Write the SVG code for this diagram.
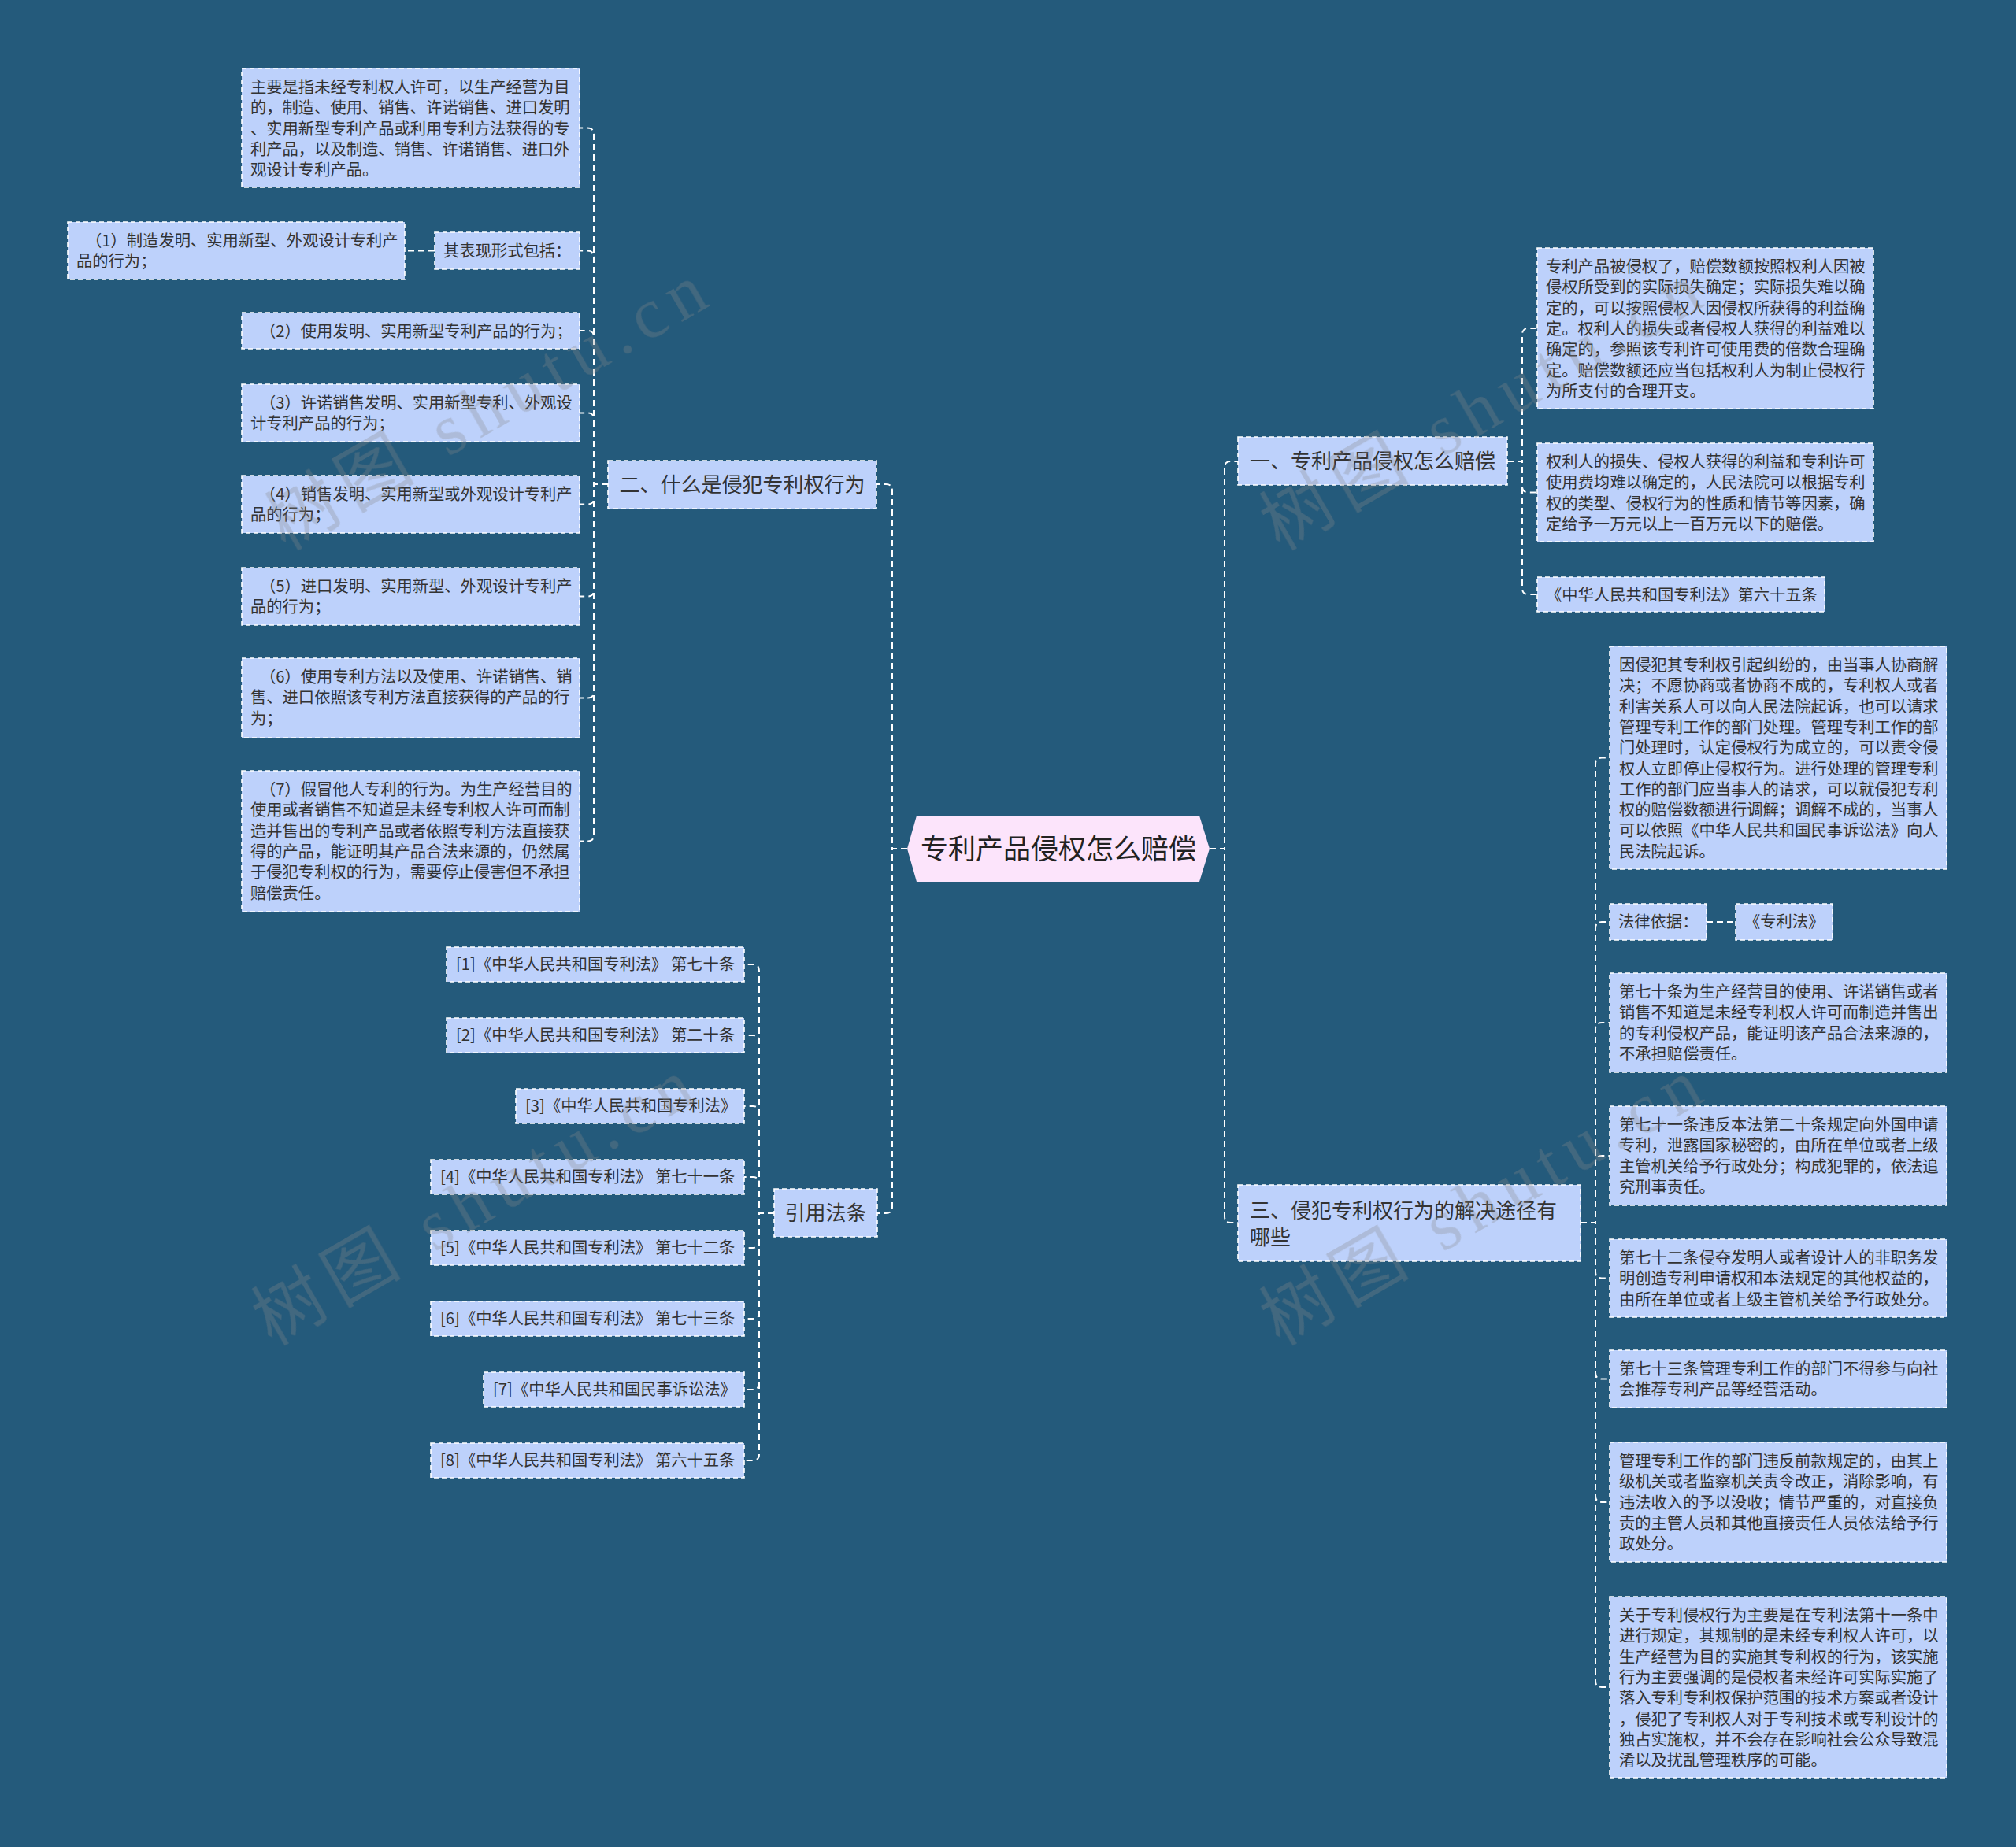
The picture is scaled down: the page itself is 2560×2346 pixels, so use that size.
<svg xmlns="http://www.w3.org/2000/svg" width="2560" height="2346" viewBox="0 0 2560 2346">
<style>
.n rect{fill:#bdd1fb;stroke:#ffffff;stroke-width:1.6;stroke-dasharray:6 4}
.t{font-family:"Noto Sans CJK SC","Noto Sans",sans-serif;font-size:20.3px;fill:#333333}
.b{font-family:"Noto Sans CJK SC","Noto Sans",sans-serif;font-size:26px;fill:#333333}
.c{font-family:"Noto Sans CJK SC","Noto Sans",sans-serif;font-size:35px;fill:#222222}
.conn path{fill:none;stroke:#ffffff;stroke-width:2;stroke-dasharray:8 5}
.wm{font-family:"Liberation Serif","Noto Sans CJK SC",serif;font-size:90px;fill:#8a8a8a;letter-spacing:12px}
</style>
<rect x="0" y="0" width="2560" height="2346" fill="#245a7b"/>

<g id="connectors" class="conn">
<path d="M1152 1078 H1133 V623 Q1133 615 1125 615 H1113"/>
<path d="M1152 1078 H1133 V1533 Q1133 1541 1125 1541 H1114"/>
<path d="M1536 1078 H1555 V594 Q1555 586 1563 586 H1572"/>
<path d="M1536 1078 H1555 V1545 Q1555 1553 1563 1553 H1572"/>
<path d="M1914 586 H1933 V425 Q1933 417 1941 417 H1952"/>
<path d="M1914 586 H1933 V617.5 Q1933 625.5 1941 625.5 H1952"/>
<path d="M1914 586 H1933 V747 Q1933 755 1941 755 H1952"/>
<path d="M2007 1553 H2026 V970.5 Q2026 962.5 2034 962.5 H2044"/>
<path d="M2007 1553 H2026 V1179 Q2026 1171 2034 1171 H2044"/>
<path d="M2007 1553 H2026 V1307 Q2026 1299 2034 1299 H2044"/>
<path d="M2007 1553 H2026 V1476 Q2026 1468 2034 1468 H2044"/>
<path d="M2007 1553 H2026 V1615.5 Q2026 1623.5 2034 1623.5 H2044"/>
<path d="M2007 1553 H2026 V1743.5 Q2026 1751.5 2034 1751.5 H2044"/>
<path d="M2007 1553 H2026 V1900 Q2026 1908 2034 1908 H2044"/>
<path d="M2007 1553 H2026 V2135 Q2026 2143 2034 2143 H2044"/>
<path d="M2167 1171 H2204"/>
<path d="M772 615 H754 V170.5 Q754 162.5 746 162.5 H736"/>
<path d="M772 615 H754 V326.5 Q754 318.5 746 318.5 H736"/>
<path d="M772 615 H754 V428 Q754 420 746 420 H736"/>
<path d="M772 615 H754 V532.5 Q754 524.5 746 524.5 H736"/>
<path d="M772 615 H754 V632.5 Q754 640.5 746 640.5 H736"/>
<path d="M772 615 H754 V749.5 Q754 757.5 746 757.5 H736"/>
<path d="M772 615 H754 V878.5 Q754 886.5 746 886.5 H736"/>
<path d="M772 615 H754 V1060.5 Q754 1068.5 746 1068.5 H736"/>
<path d="M552 318.5 H514"/>
<path d="M983 1541 H964 V1233 Q964 1225 956 1225 H945"/>
<path d="M983 1541 H964 V1323 Q964 1315 956 1315 H945"/>
<path d="M983 1541 H964 V1413 Q964 1405 956 1405 H945"/>
<path d="M983 1541 H964 V1503 Q964 1495 956 1495 H945"/>
<path d="M983 1541 H964 V1577 Q964 1585 956 1585 H945"/>
<path d="M983 1541 H964 V1667 Q964 1675 956 1675 H945"/>
<path d="M983 1541 H964 V1757 Q964 1765 956 1765 H945"/>
<path d="M983 1541 H964 V1847 Q964 1855 956 1855 H945"/>
</g>

<g id="root">
<polygon points="1152,1078 1164,1036 1523,1036 1536,1078 1523,1120 1164,1120" fill="#fce4fb"/>
<text class="c" x="1344" y="1091" text-anchor="middle">专利产品侵权怎么赔偿</text>
</g>

<g id="branch1" class="n">
<rect x="1572" y="555" width="342" height="61"/>
<text class="b" x="1743" y="595" text-anchor="middle">一、专利产品侵权怎么赔偿</text>
</g>
<g id="b1c1" class="n">
<rect x="1952" y="315" width="427" height="204"/>
<text class="t" x="1963" y="346"><tspan x="1963">专利产品被侵权了，赔偿数额按照权利人因被</tspan><tspan x="1963" dy="26.3">侵权所受到的实际损失确定；实际损失难以确</tspan><tspan x="1963" dy="26.3">定的，可以按照侵权人因侵权所获得的利益确</tspan><tspan x="1963" dy="26.3">定。权利人的损失或者侵权人获得的利益难以</tspan><tspan x="1963" dy="26.3">确定的，参照该专利许可使用费的倍数合理确</tspan><tspan x="1963" dy="26.3">定。赔偿数额还应当包括权利人为制止侵权行</tspan><tspan x="1963" dy="26.3">为所支付的合理开支。</tspan></text>
</g>
<g id="b1c2" class="n">
<rect x="1952" y="563" width="427" height="125"/>
<text class="t" x="1963" y="594"><tspan x="1963">权利人的损失、侵权人获得的利益和专利许可</tspan><tspan x="1963" dy="26.3">使用费均难以确定的，人民法院可以根据专利</tspan><tspan x="1963" dy="26.3">权的类型、侵权行为的性质和情节等因素，确</tspan><tspan x="1963" dy="26.3">定给予一万元以上一百万元以下的赔偿。</tspan></text>
</g>
<g id="b1c3" class="n">
<rect x="1952" y="733" width="365" height="44"/>
<text class="t" x="1963" y="763">《中华人民共和国专利法》第六十五条</text>
</g>

<g id="branch3" class="n">
<rect x="1572" y="1505" width="435" height="97"/>
<text class="b" x="1587" y="1547"><tspan x="1587">三、侵犯专利权行为的解决途径有</tspan><tspan x="1587" dy="33.8">哪些</tspan></text>
</g>
<g id="b3c1" class="n">
<rect x="2044" y="821" width="428" height="283"/>
<text class="t" x="2056" y="852"><tspan x="2056">因侵犯其专利权引起纠纷的，由当事人协商解</tspan><tspan x="2056" dy="26.3">决；不愿协商或者协商不成的，专利权人或者</tspan><tspan x="2056" dy="26.3">利害关系人可以向人民法院起诉，也可以请求</tspan><tspan x="2056" dy="26.3">管理专利工作的部门处理。管理专利工作的部</tspan><tspan x="2056" dy="26.3">门处理时，认定侵权行为成立的，可以责令侵</tspan><tspan x="2056" dy="26.3">权人立即停止侵权行为。进行处理的管理专利</tspan><tspan x="2056" dy="26.3">工作的部门应当事人的请求，可以就侵犯专利</tspan><tspan x="2056" dy="26.3">权的赔偿数额进行调解；调解不成的，当事人</tspan><tspan x="2056" dy="26.3">可以依照《中华人民共和国民事诉讼法》向人</tspan><tspan x="2056" dy="26.3">民法院起诉。</tspan></text>
</g>
<g id="b3c2" class="n">
<rect x="2044" y="1148" width="123" height="46"/>
<text class="t" x="2055" y="1178">法律依据：</text>
</g>
<g id="b3c2a" class="n">
<rect x="2204" y="1148" width="123" height="46"/>
<text class="t" x="2215" y="1178">《专利法》</text>
</g>
<g id="b3c3" class="n">
<rect x="2044" y="1236" width="428" height="126"/>
<text class="t" x="2056" y="1267"><tspan x="2056">第七十条为生产经营目的使用、许诺销售或者</tspan><tspan x="2056" dy="26.3">销售不知道是未经专利权人许可而制造并售出</tspan><tspan x="2056" dy="26.3">的专利侵权产品，能证明该产品合法来源的，</tspan><tspan x="2056" dy="26.3">不承担赔偿责任。</tspan></text>
</g>
<g id="b3c4" class="n">
<rect x="2044" y="1405" width="428" height="126"/>
<text class="t" x="2056" y="1436"><tspan x="2056">第七十一条违反本法第二十条规定向外国申请</tspan><tspan x="2056" dy="26.3">专利，泄露国家秘密的，由所在单位或者上级</tspan><tspan x="2056" dy="26.3">主管机关给予行政处分；构成犯罪的，依法追</tspan><tspan x="2056" dy="26.3">究刑事责任。</tspan></text>
</g>
<g id="b3c5" class="n">
<rect x="2044" y="1574" width="428" height="99"/>
<text class="t" x="2056" y="1605"><tspan x="2056">第七十二条侵夺发明人或者设计人的非职务发</tspan><tspan x="2056" dy="26.3">明创造专利申请权和本法规定的其他权益的，</tspan><tspan x="2056" dy="26.3">由所在单位或者上级主管机关给予行政处分。</tspan></text>
</g>
<g id="b3c6" class="n">
<rect x="2044" y="1715" width="428" height="73"/>
<text class="t" x="2056" y="1746"><tspan x="2056">第七十三条管理专利工作的部门不得参与向社</tspan><tspan x="2056" dy="26.3">会推荐专利产品等经营活动。</tspan></text>
</g>
<g id="b3c7" class="n">
<rect x="2044" y="1832" width="428" height="152"/>
<text class="t" x="2056" y="1863"><tspan x="2056">管理专利工作的部门违反前款规定的，由其上</tspan><tspan x="2056" dy="26.3">级机关或者监察机关责令改正，消除影响，有</tspan><tspan x="2056" dy="26.3">违法收入的予以没收；情节严重的，对直接负</tspan><tspan x="2056" dy="26.3">责的主管人员和其他直接责任人员依法给予行</tspan><tspan x="2056" dy="26.3">政处分。</tspan></text>
</g>
<g id="b3c8" class="n">
<rect x="2044" y="2028" width="428" height="230"/>
<text class="t" x="2056" y="2059"><tspan x="2056">关于专利侵权行为主要是在专利法第十一条中</tspan><tspan x="2056" dy="26.3">进行规定，其规制的是未经专利权人许可，以</tspan><tspan x="2056" dy="26.3">生产经营为目的实施其专利权的行为，该实施</tspan><tspan x="2056" dy="26.3">行为主要强调的是侵权者未经许可实际实施了</tspan><tspan x="2056" dy="26.3">落入专利专利权保护范围的技术方案或者设计</tspan><tspan x="2056" dy="26.3">，侵犯了专利权人对于专利技术或专利设计的</tspan><tspan x="2056" dy="26.3">独占实施权，并不会存在影响社会公众导致混</tspan><tspan x="2056" dy="26.3">淆以及扰乱管理秩序的可能。</tspan></text>
</g>

<g id="branch2" class="n">
<rect x="772" y="585" width="341" height="61"/>
<text class="b" x="942.5" y="625" text-anchor="middle">二、什么是侵犯专利权行为</text>
</g>
<g id="b2c1" class="n">
<rect x="307" y="87" width="429" height="151"/>
<text class="t" x="318" y="118"><tspan x="318">主要是指未经专利权人许可，以生产经营为目</tspan><tspan x="318" dy="26.3">的，制造、使用、销售、许诺销售、进口发明</tspan><tspan x="318" dy="26.3">、实用新型专利产品或利用专利方法获得的专</tspan><tspan x="318" dy="26.3">利产品，以及制造、销售、许诺销售、进口外</tspan><tspan x="318" dy="26.3">观设计专利产品。</tspan></text>
</g>
<g id="b2c2" class="n">
<rect x="552" y="295" width="184" height="47"/>
<text class="t" x="563" y="326">其表现形式包括：</text>
</g>
<g id="b2c2a" class="n">
<rect x="86" y="282" width="428" height="73"/>
<text class="t" x="97" y="313"><tspan x="109">（1）制造发明、实用新型、外观设计专利产</tspan><tspan x="97" dy="26.3">品的行为；</tspan></text>
</g>
<g id="b2c3" class="n">
<rect x="307" y="397" width="429" height="46"/>
<text class="t" x="330" y="428">（2）使用发明、实用新型专利产品的行为；</text>
</g>
<g id="b2c4" class="n">
<rect x="307" y="488" width="429" height="73"/>
<text class="t" x="318" y="519"><tspan x="330">（3）许诺销售发明、实用新型专利、外观设</tspan><tspan x="318" dy="26.3">计专利产品的行为；</tspan></text>
</g>
<g id="b2c5" class="n">
<rect x="307" y="604" width="429" height="73"/>
<text class="t" x="318" y="635"><tspan x="330">（4）销售发明、实用新型或外观设计专利产</tspan><tspan x="318" dy="26.3">品的行为；</tspan></text>
</g>
<g id="b2c6" class="n">
<rect x="307" y="721" width="429" height="73"/>
<text class="t" x="318" y="752"><tspan x="330">（5）进口发明、实用新型、外观设计专利产</tspan><tspan x="318" dy="26.3">品的行为；</tspan></text>
</g>
<g id="b2c7" class="n">
<rect x="307" y="836" width="429" height="101"/>
<text class="t" x="318" y="867"><tspan x="330">（6）使用专利方法以及使用、许诺销售、销</tspan><tspan x="318" dy="26.3">售、进口依照该专利方法直接获得的产品的行</tspan><tspan x="318" dy="26.3">为；</tspan></text>
</g>
<g id="b2c8" class="n">
<rect x="307" y="979" width="429" height="179"/>
<text class="t" x="318" y="1010"><tspan x="330">（7）假冒他人专利的行为。为生产经营目的</tspan><tspan x="318" dy="26.3">使用或者销售不知道是未经专利权人许可而制</tspan><tspan x="318" dy="26.3">造并售出的专利产品或者依照专利方法直接获</tspan><tspan x="318" dy="26.3">得的产品，能证明其产品合法来源的，仍然属</tspan><tspan x="318" dy="26.3">于侵犯专利权的行为，需要停止侵害但不承担</tspan><tspan x="318" dy="26.3">赔偿责任。</tspan></text>
</g>

<g id="branch4" class="n">
<rect x="983" y="1510" width="131" height="61"/>
<text class="b" x="1048.5" y="1550" text-anchor="middle">引用法条</text>
</g>
<g id="ref1" class="n"><rect x="567" y="1203" width="378" height="44"/><text class="t" x="579" y="1232">[1]《中华人民共和国专利法》 第七十条</text></g>
<g id="ref2" class="n"><rect x="567" y="1293" width="378" height="44"/><text class="t" x="579" y="1322">[2]《中华人民共和国专利法》 第二十条</text></g>
<g id="ref3" class="n"><rect x="655" y="1383" width="290" height="44"/><text class="t" x="667" y="1412">[3]《中华人民共和国专利法》</text></g>
<g id="ref4" class="n"><rect x="547" y="1473" width="398" height="44"/><text class="t" x="559" y="1502">[4]《中华人民共和国专利法》 第七十一条</text></g>
<g id="ref5" class="n"><rect x="547" y="1563" width="398" height="44"/><text class="t" x="559" y="1592">[5]《中华人民共和国专利法》 第七十二条</text></g>
<g id="ref6" class="n"><rect x="547" y="1653" width="398" height="44"/><text class="t" x="559" y="1682">[6]《中华人民共和国专利法》 第七十三条</text></g>
<g id="ref7" class="n"><rect x="614" y="1743" width="331" height="44"/><text class="t" x="626" y="1772">[7]《中华人民共和国民事诉讼法》</text></g>
<g id="ref8" class="n"><rect x="547" y="1833" width="398" height="44"/><text class="t" x="559" y="1862">[8]《中华人民共和国专利法》 第六十五条</text></g>

<g id="watermark" opacity="0.3">
<text class="wm" x="362" y="700" transform="rotate(-30 362 700)">树图 shutu.cn</text>
<text class="wm" x="1625" y="700" transform="rotate(-30 1625 700)">树图 shutu.cn</text>
<text class="wm" x="345" y="1710" transform="rotate(-30 345 1710)">树图 shutu.cn</text>
<text class="wm" x="1625" y="1710" transform="rotate(-30 1625 1710)">树图 shutu.cn</text>
</g>
</svg>
